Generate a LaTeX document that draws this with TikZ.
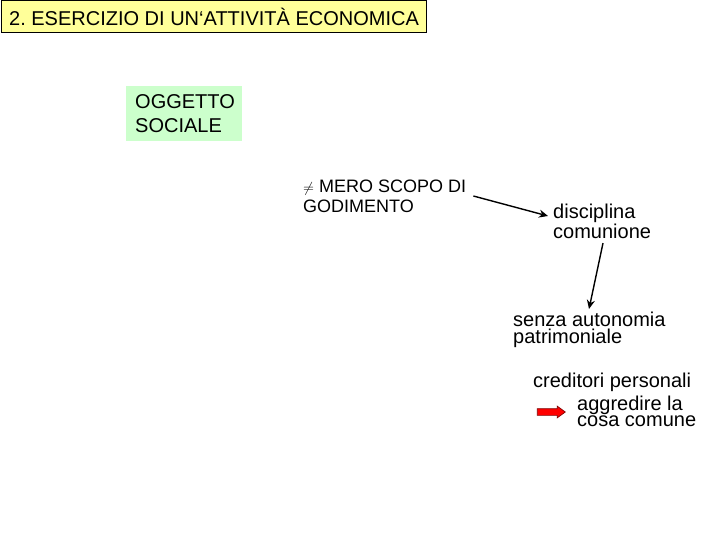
\documentclass[tikz,border=0pt]{standalone}
\usepackage{fontspec}
\setmainfont{Liberation Sans}
\usetikzlibrary{arrows.meta,shapes.arrows}

\definecolor{giallino}{HTML}{FFFF99}
\definecolor{verdino}{HTML}{CCFFCC}
\frenchspacing

\begin{document}
\begin{tikzpicture}[x=1pt,y=-1pt,
        testo/.style={anchor=north west,inner sep=0pt,align=left,font=\fontsize{20}{17}\selectfont},
        freccia/.style={draw=black,line width=1.4pt,-{Stealth[length=9pt,width=8pt]}}]
    \useasboundingbox (0,0) rectangle (720,540);
    % titolo
    \node[draw=black,line width=1pt,fill=giallino,anchor=north west,inner xsep=6pt,
          minimum width=425pt,minimum height=32pt,font=\fontsize{20}{24}\selectfont]
          (titolo) at (1,0.5) {2. ESERCIZIO DI UN‘ATTIVITÀ ECONOMICA};
    % oggetto sociale
    \node[fill=verdino,anchor=north west,inner xsep=9pt,inner ysep=0pt,text width=98pt,
          minimum height=55pt,align=left,font=\fontsize{20}{24}\selectfont]
          (oggetto) at (126,86) {OGGETTO\\SOCIALE};
    \node[testo,font=\fontsize{18}{20}\selectfont] (mero) at (303,180)
          {{\fontsize{14}{14}\selectfont$\neq$} MERO SCOPO DI\\GODIMENTO};
    \node[testo,font=\fontsize{20}{20}\selectfont] (disciplina) at (553,204) {disciplina\\comunione};
    \node[testo] (senza) at (513,312) {senza autonomia\\patrimoniale};
    \node[testo] (creditori) at (533,373) {creditori personali};
    \node[testo,font=\fontsize{20}{16}\selectfont] (aggredire) at (577,396) {aggredire la\\cosa comune};
    \node[single arrow,fill=red,draw=red!50!black,line width=0.7pt,minimum height=28pt,
          inner sep=3pt,single arrow head extend=2.5pt,single arrow tip angle=72] (rossa) at (549,412) {};
    % frecce
    \draw[freccia] ([xshift=7pt,yshift=-16pt]mero.north east) -- ([xshift=-5pt,yshift=-12pt]disciplina.north west);
    \draw[freccia] ([xshift=50pt,yshift=-4pt]disciplina.south west) -- ([xshift=76pt,yshift=3pt]senza.north west);
\end{tikzpicture}
\end{document}
